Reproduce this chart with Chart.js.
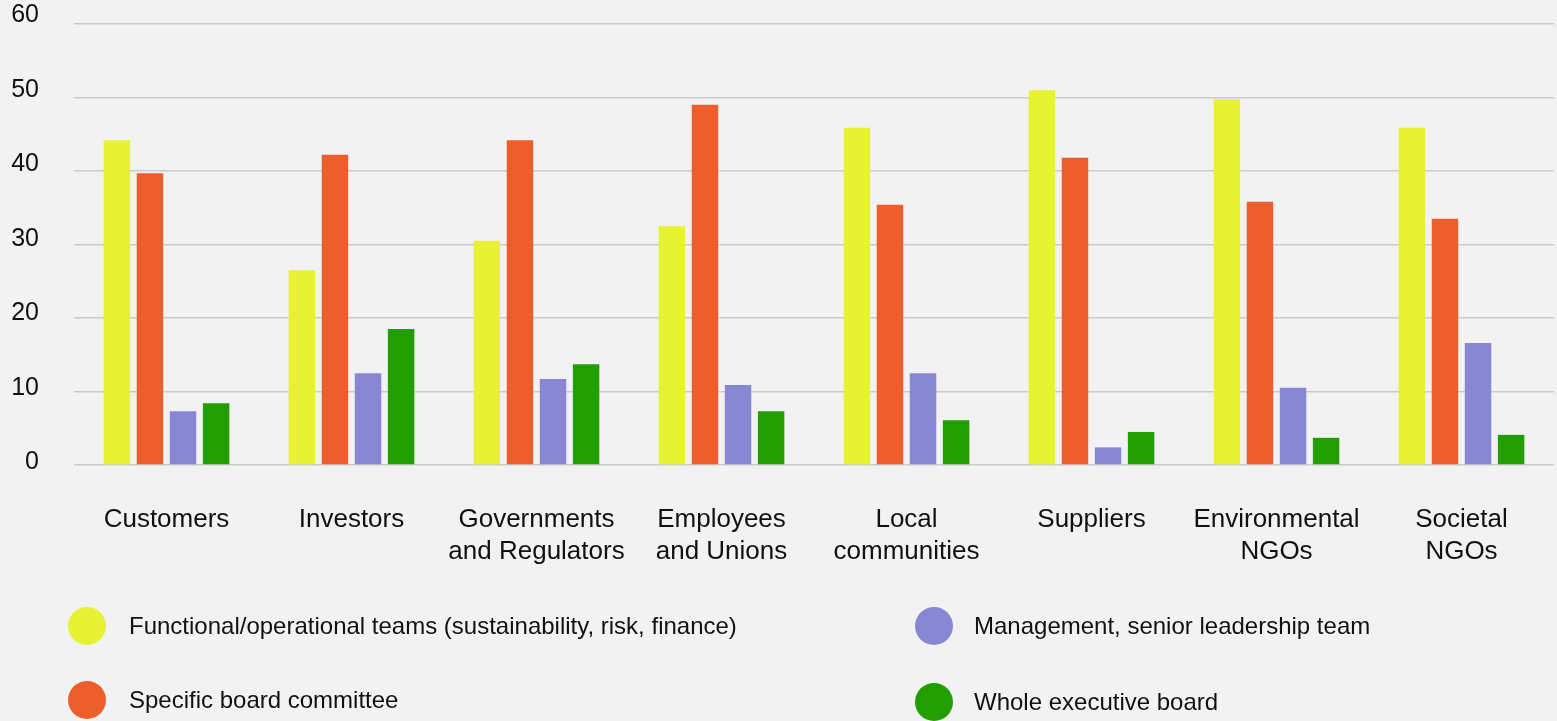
<!DOCTYPE html>
<html>
<head>
<meta charset="utf-8">
<script src="https://cdn.jsdelivr.net/npm/chart.js@4"></script>
<style>
  html, body { margin: 0; padding: 0; background: #f2f2f2; }
  #wrap { position: relative; width: 1557px; height: 721px; overflow: hidden; }
  #chartBox { position: absolute; left: 0; top: 0; width: 1557px; height: 721px; }
  .lg { position: absolute; font-family: "Liberation Sans", Arial, sans-serif; font-size: 24px; line-height: 24px; color: #111; white-space: nowrap; }
  .dot { position: absolute; width: 38px; height: 38px; border-radius: 50%; }
</style>
</head>
<body>
<div id="wrap">
  <div id="chartBox"><canvas id="chart"></canvas></div>
  <div id="legend"></div>
</div>
<script>
// categories (multi-line labels)
const categories = [
  ['Customers'],
  ['Investors'],
  ['Governments', 'and Regulators'],
  ['Employees', 'and Unions'],
  ['Local', 'communities'],
  ['Suppliers'],
  ['Environmental', 'NGOs'],
  ['Societal', 'NGOs']
];

const seriesNames = [
  'Functional/operational teams (sustainability, risk, finance)',
  'Specific board committee',
  'Management, senior leadership team',
  'Whole executive board'
];

const functionalTeams = [44.2, 26.5, 30.5, 32.5, 45.9, 51.0, 49.8, 45.9];
const boardCommittee  = [39.7, 42.2, 44.2, 49.0, 35.4, 41.8, 35.8, 33.5];
const management      = [7.3, 12.5, 11.7, 10.9, 12.5, 2.4, 10.5, 16.6];
const wholeBoard      = [8.4, 18.5, 13.7, 7.3, 6.1, 4.5, 3.7, 4.1];

const yTicks = [0, 10, 20, 30, 40, 50, 60];

const colors = ['#e6f232', '#ec5f2c', '#8787d3', '#229e00'];
const seriesData = [functionalTeams, boardCommittee, management, wholeBoard];

const FONT = '"Liberation Sans", Arial, sans-serif';

new Chart(document.getElementById('chart'), {
  type: 'bar',
  data: {
    labels: categories,
    datasets: seriesData.map((d, i) => ({
      label: seriesNames[i],
      data: d,
      backgroundColor: colors[i],
      borderWidth: 0,
      categoryPercentage: 0.715,
      barPercentage: 0.8
    }))
  },
  options: {
    responsive: true,
    maintainAspectRatio: false,
    animation: false,
    layout: { padding: { top: 24, right: 3, bottom: 140, left: 0 } },
    plugins: {
      legend: { display: false },
      tooltip: { enabled: false }
    },
    scales: {
      x: {
        grid: { display: false },
        border: { display: false },
        ticks: {
          color: '#111',
          font: { family: FONT, size: 26, lineHeight: 1.23 },
          padding: 31,
          maxRotation: 0,
          autoSkip: false
        },
        afterFit: s => { s.height = 116; s.paddingLeft = 0; s.paddingRight = 0; }
      },
      // grid axis (no labels)
      y: {
        min: 0,
        max: 60,
        position: 'left',
        grid: { color: '#cbcbcb', lineWidth: 1.5, drawTicks: false },
        border: { display: false },
        ticks: { display: false, stepSize: 10 },
        afterFit: s => { s.width = 0; s.paddingTop = 0; s.paddingBottom = 0; }
      },
      // label axis: the reference spaces its labels slightly wider than the grid
      yLabels: {
        min: -0.4,
        max: 58.87,
        bounds: 'data',
        position: 'left',
        grid: { display: false, drawTicks: false },
        border: { display: false },
        afterBuildTicks: s => { s.ticks = yTicks.map(v => ({ value: v })); },
        ticks: {
          color: '#111',
          font: { family: FONT, size: 25 },
          padding: 35,
          autoSkip: false
        },
        afterFit: s => { s.width = 74; s.paddingTop = 0; s.paddingBottom = 0; }
      }
    }
  }
});

// legend in two columns
const legendPos = [
  { cx: 87, cy: 626, tx: 129 },
  { cx: 87, cy: 700, tx: 129 },
  { cx: 934, cy: 626, tx: 974 },
  { cx: 934, cy: 702, tx: 974 }
];
const legend = document.getElementById('legend');
seriesNames.forEach((name, i) => {
  const p = legendPos[i];
  const dot = document.createElement('div');
  dot.className = 'dot';
  dot.style.left = (p.cx - 19) + 'px';
  dot.style.top = (p.cy - 19) + 'px';
  dot.style.background = colors[i];
  legend.appendChild(dot);
  const t = document.createElement('div');
  t.className = 'lg';
  t.style.left = p.tx + 'px';
  t.style.top = (p.cy - 12) + 'px';
  t.textContent = name;
  legend.appendChild(t);
});
</script>
</body>
</html>
